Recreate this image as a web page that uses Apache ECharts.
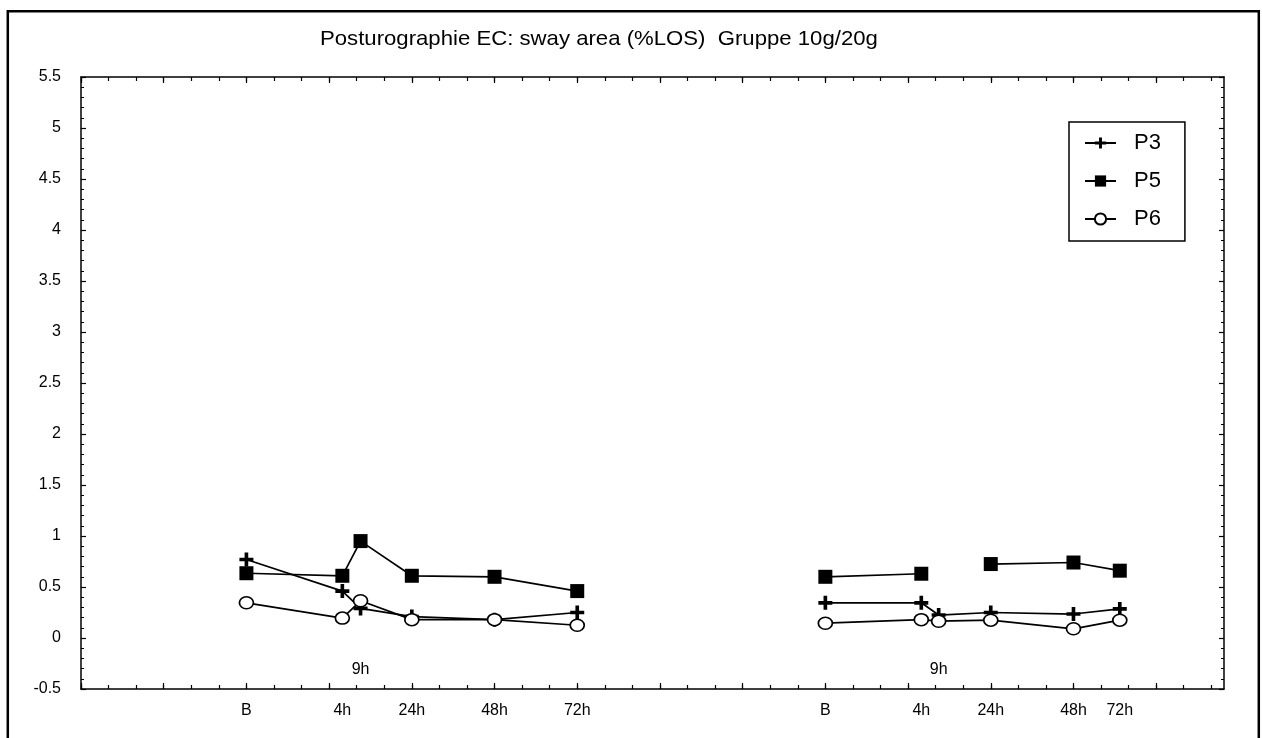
<!DOCTYPE html>
<html><head><meta charset="utf-8">
<script src="https://cdn.jsdelivr.net/npm/echarts@6/dist/echarts.min.js"></script>
<style>html,body{margin:0;padding:0;background:#fff}#c{width:1262px;height:738px}</style>
</head><body><div id="c"></div>
<script>
// ---- data ----
const titleText = 'Posturographie EC: sway area (%LOS)  Gruppe 10g/20g';
const timeLabels = ['B', '4h', '9h', '24h', '48h', '72h'];
const xLeft  = [2, 3.16, 3.38, 4, 5, 6];
const xRight = [9, 10.16, 10.37, 11, 12, 12.56];
const seriesNames = ['P3', 'P5', 'P6'];
const p3Left  = [0.77, 0.46, 0.29, 0.21, 0.18, 0.25];
const p3Right = [0.345, 0.345, 0.225, 0.25, 0.235, 0.285];
const p5Left  = [0.635, 0.61, 0.95, 0.61, 0.60, 0.46];
const p5Right = [0.60, 0.63, null, 0.725, 0.74, 0.66];
const p6Left  = [0.345, 0.195, 0.365, 0.18, 0.18, 0.125];
const p6Right = [0.145, 0.18, 0.165, 0.175, 0.09, 0.175];
const yMin = -0.5, yMax = 5.5, yStep = 0.5;
const xMin = 0, xMax = 13.82;
const midLabel = '9h';
const midLabelY = -0.31;

// ---- helpers ----
const FONT = '"Liberation Sans", Arial, sans-serif';
function build(left, right) {
  const d = [];
  left.forEach((v, i) => d.push([xLeft[i], v == null ? '-' : v]));
  d.push([(xLeft[xLeft.length - 1] + xRight[0]) / 2, '-']);
  right.forEach((v, i) => d.push([xRight[i], v == null ? '-' : v]));
  return d;
}
const labelIdx = [0, 1, 3, 4, 5];
const labelVals = [], labelTxt = [];
[xLeft, xRight].forEach(arr => labelIdx.forEach(i => { labelVals.push(arr[i]); labelTxt.push(timeLabels[i]); }));
const thirdTicks = [], majorTicks = [];
for (let k = 0; k / 3 <= xMax; k++) thirdTicks.push(k / 3);
for (let k = 0; k <= xMax; k++) majorTicks.push(k);

const plusPath = 'path://M3.7,0H6.3V3.7H10V6.3H6.3V10H3.7V6.3H0V3.7H3.7Z';
const lineStyle = { color: '#000', width: 1.7 };
const axisLine = { show: true, onZero: false, lineStyle: { color: '#000', width: 1.5 } };

function xAx(pos, ticks, len, showLine, labels) {
  return {
    type: 'value', min: xMin, max: xMax, interval: 1, position: pos,
    axisLine: showLine ? axisLine : { show: false, onZero: false },
    axisTick: { show: true, inside: true, length: len, customValues: ticks, lineStyle: { color: '#000', width: 1.2 } },
    axisLabel: labels ? {
      show: true, customValues: labelVals, margin: 14, color: '#000', fontSize: 16, fontFamily: FONT,
      formatter: v => { const i = labelVals.findIndex(x => Math.abs(x - v) < 1e-6); return i >= 0 ? labelTxt[i] : ''; }
    } : { show: false },
    splitLine: { show: false }
  };
}
function yAx(pos, labels) {
  return {
    type: 'value', min: yMin, max: yMax, interval: yStep, position: pos,
    axisLine: axisLine,
    axisTick: { show: true, inside: true, length: 5, lineStyle: { color: '#000', width: 1.2 } },
    minorTick: { show: true, splitNumber: 5, length: 3, lineStyle: { color: '#000', width: 1 } },
    axisLabel: labels ? { show: true, margin: 20, color: '#000', fontSize: 16, fontFamily: FONT } : { show: false },
    splitLine: { show: false }, minorSplitLine: { show: false }
  };
}

const chart = echarts.init(document.getElementById('c'), null, { renderer: 'canvas' });
chart.setOption({
  animation: false,
  backgroundColor: '#fff',
  grid: { left: 81, right: 38, top: 77, bottom: 49 },
  graphic: [
    { type: 'rect', shape: { x: 7.8, y: 11.2, width: 1251, height: 800 },
      style: { fill: 'none', stroke: '#000', lineWidth: 2.5 }, silent: true },
    { type: 'text', x: 320, y: 39, scaleX: 1.055,
      style: { text: titleText, font: '21px ' + FONT, fill: '#000', align: 'left', verticalAlign: 'middle' }, silent: true }
  ],
  legend: {
    data: seriesNames, orient: 'vertical', left: 1069, top: 122,
    itemWidth: 31, itemHeight: 14, itemGap: 16,
    padding: [10, 24, 11, 15],
    borderColor: '#000', borderWidth: 1.5, backgroundColor: '#fff',
    textStyle: { fontSize: 22, color: '#000', fontFamily: FONT, padding: [0, 0, 0, 13] }
  },
  xAxis: [
    xAx('bottom', thirdTicks, 4, true, true),
    xAx('top', thirdTicks, 4, true, false),
    xAx('bottom', majorTicks, 6, false, false),
    xAx('top', majorTicks, 6, false, false)
  ],
  yAxis: [yAx('left', true), yAx('right', false)],
  series: [
    { name: seriesNames[0], type: 'line', data: build(p3Left, p3Right),
      symbol: plusPath, symbolSize: 14, lineStyle: lineStyle,
      itemStyle: { color: '#000' }, z: 2 },
    { name: seriesNames[1], type: 'line', data: build(p5Left, p5Right),
      symbol: 'rect', symbolSize: 14, lineStyle: lineStyle,
      itemStyle: { color: '#000' }, z: 3 },
    { name: seriesNames[2], type: 'line', data: build(p6Left, p6Right),
      symbol: 'circle', symbolSize: [14, 12], lineStyle: lineStyle,
      itemStyle: { color: '#fff', borderColor: '#000', borderWidth: 1.6 }, z: 4 },
    { name: 'mid', type: 'scatter', silent: true, symbolSize: 1,
      itemStyle: { color: 'rgba(0,0,0,0)', opacity: 1 },
      data: [[xLeft[2], midLabelY], [xRight[2], midLabelY]],
      label: { show: true, position: 'inside', formatter: midLabel, color: '#000', opacity: 1, fontSize: 16, fontFamily: FONT } }
  ]
});
</script></body></html>
